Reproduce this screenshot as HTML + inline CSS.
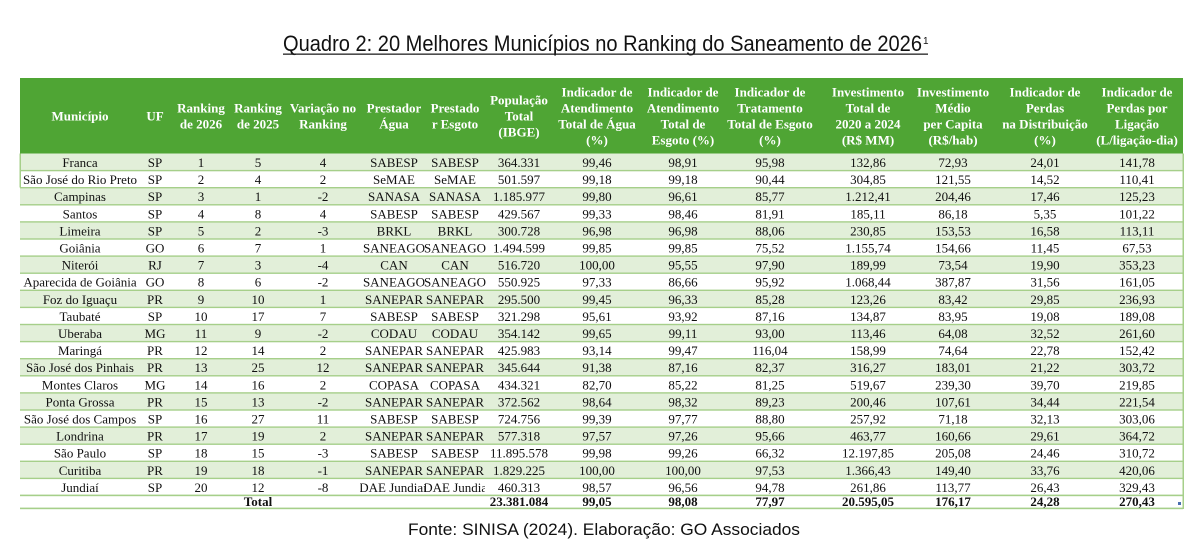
<!DOCTYPE html>
<html><head><meta charset="utf-8"><style>
html,body{margin:0;padding:0;background:#fff;}
svg{display:block;}
.h{font-family:"Liberation Serif",serif;font-weight:bold;font-size:13px;fill:#fff;text-anchor:middle;}
.d{font-family:"Liberation Serif",serif;font-size:13px;fill:#111;text-anchor:middle;}
.b{font-family:"Liberation Serif",serif;font-size:13px;font-weight:bold;fill:#111;text-anchor:middle;}
</style></head><body>
<svg width="1200" height="547" viewBox="0 0 1200 547" xmlns="http://www.w3.org/2000/svg">
<defs>
<clipPath id="ca"><rect x="360" y="470" width="65" height="25"/></clipPath>
<clipPath id="ce"><rect x="425" y="470" width="60" height="25"/></clipPath>
</defs>
<!-- Title -->
<text x="283" y="51" font-family="Liberation Sans, sans-serif" font-size="22" fill="#111" textLength="639" lengthAdjust="spacingAndGlyphs">Quadro 2: 20 Melhores Municípios no Ranking do Saneamento de 2026</text>
<text x="923" y="44" font-family="Liberation Sans, sans-serif" font-size="10" fill="#111">1</text>
<rect x="283" y="53.5" width="645" height="1.3" fill="#222"/>

<!-- Header -->
<rect x="20" y="78" width="1163" height="75.5" fill="#4fa534"/>
<text class="h"><tspan x="80" y="120.5">Município</tspan><tspan x="155" y="120.5">UF</tspan></text>
<text class="h"><tspan x="201" y="112.5">Ranking</tspan><tspan x="201" y="128.5">de 2026</tspan><tspan x="258" y="112.5">Ranking</tspan><tspan x="258" y="128.5">de 2025</tspan><tspan x="323" y="112.5">Variação no</tspan><tspan x="323" y="128.5">Ranking</tspan><tspan x="394" y="112.5">Prestador</tspan><tspan x="394" y="128.5">Água</tspan><tspan x="455" y="112.5">Prestado</tspan><tspan x="455" y="128.5">r Esgoto</tspan></text>
<text class="h"><tspan x="519" y="104.5">População</tspan><tspan x="519" y="120.5">Total</tspan><tspan x="519" y="136.5">(IBGE)</tspan></text>
<text class="h"><tspan x="597" y="96.5">Indicador de</tspan><tspan x="597" y="112.5">Atendimento</tspan><tspan x="597" y="128.5">Total de Água</tspan><tspan x="597" y="144.5">(%)</tspan></text>
<text class="h"><tspan x="683" y="96.5">Indicador de</tspan><tspan x="683" y="112.5">Atendimento</tspan><tspan x="683" y="128.5">Total de</tspan><tspan x="683" y="144.5">Esgoto (%)</tspan></text>
<text class="h"><tspan x="770" y="96.5">Indicador de</tspan><tspan x="770" y="112.5">Tratamento</tspan><tspan x="770" y="128.5">Total de Esgoto</tspan><tspan x="770" y="144.5">(%)</tspan></text>
<text class="h"><tspan x="868" y="96.5">Investimento</tspan><tspan x="868" y="112.5">Total de</tspan><tspan x="868" y="128.5">2020 a 2024</tspan><tspan x="868" y="144.5">(R$ MM)</tspan></text>
<text class="h"><tspan x="953" y="96.5">Investimento</tspan><tspan x="953" y="112.5">Médio</tspan><tspan x="953" y="128.5">per Capita</tspan><tspan x="953" y="144.5">(R$/hab)</tspan></text>
<text class="h"><tspan x="1045" y="96.5">Indicador de</tspan><tspan x="1045" y="112.5">Perdas</tspan><tspan x="1045" y="128.5">na Distribuição</tspan><tspan x="1045" y="144.5">(%)</tspan></text>
<text class="h"><tspan x="1137" y="96.5">Indicador de</tspan><tspan x="1137" y="112.5">Perdas por</tspan><tspan x="1137" y="128.5">Ligação</tspan><tspan x="1137" y="144.5">(L/ligação-dia)</tspan></text>

<!-- Row fills (odd rows) -->
<g fill="#e2efd9">
<rect x="20" y="153.5" width="1163" height="17.1"/>
<rect x="20" y="187.7" width="1163" height="17.1"/>
<rect x="20" y="221.9" width="1163" height="17.1"/>
<rect x="20" y="256.1" width="1163" height="17.1"/>
<rect x="20" y="290.3" width="1163" height="17.1"/>
<rect x="20" y="324.5" width="1163" height="17.1"/>
<rect x="20" y="358.7" width="1163" height="17.1"/>
<rect x="20" y="392.9" width="1163" height="17.1"/>
<rect x="20" y="427.1" width="1163" height="17.1"/>
<rect x="20" y="461.3" width="1163" height="17.1"/>
</g>
<!-- Row lines -->
<g fill="#a6cf8a">
<rect x="20" y="169.9" width="1163" height="1.4"/>
<rect x="20" y="187.0" width="1163" height="1.4"/>
<rect x="20" y="204.1" width="1163" height="1.4"/>
<rect x="20" y="221.2" width="1163" height="1.4"/>
<rect x="20" y="238.3" width="1163" height="1.4"/>
<rect x="20" y="255.4" width="1163" height="1.4"/>
<rect x="20" y="272.5" width="1163" height="1.4"/>
<rect x="20" y="289.6" width="1163" height="1.4"/>
<rect x="20" y="306.7" width="1163" height="1.4"/>
<rect x="20" y="323.8" width="1163" height="1.4"/>
<rect x="20" y="340.9" width="1163" height="1.4"/>
<rect x="20" y="358.0" width="1163" height="1.4"/>
<rect x="20" y="375.1" width="1163" height="1.4"/>
<rect x="20" y="392.2" width="1163" height="1.4"/>
<rect x="20" y="409.3" width="1163" height="1.4"/>
<rect x="20" y="426.4" width="1163" height="1.4"/>
<rect x="20" y="443.5" width="1163" height="1.4"/>
<rect x="20" y="460.6" width="1163" height="1.4"/>
<rect x="20" y="477.7" width="1163" height="1.4"/>
<rect x="20" y="494.6" width="1163" height="1.6"/>
<rect x="20" y="507.6" width="1163" height="1.6"/>
<rect x="1182.5" y="153.5" width="1.5" height="355.5"/>
<rect x="19.5" y="153.5" width="1.5" height="34"/>
</g>
<rect x="1178" y="502" width="3" height="3" fill="#4a6fb0"/>

<!-- Data rows -->
<text class="d" y="167"><tspan x="80">Franca</tspan><tspan x="155">SP</tspan><tspan x="201">1</tspan><tspan x="258">5</tspan><tspan x="323">4</tspan><tspan x="394">SABESP</tspan><tspan x="455">SABESP</tspan><tspan x="519">364.331</tspan><tspan x="597">99,46</tspan><tspan x="683">98,91</tspan><tspan x="770">95,98</tspan><tspan x="868">132,86</tspan><tspan x="953">72,93</tspan><tspan x="1045">24,01</tspan><tspan x="1137">141,78</tspan></text>
<text class="d" y="184.1"><tspan x="80">São José do Rio Preto</tspan><tspan x="155">SP</tspan><tspan x="201">2</tspan><tspan x="258">4</tspan><tspan x="323">2</tspan><tspan x="394">SeMAE</tspan><tspan x="455">SeMAE</tspan><tspan x="519">501.597</tspan><tspan x="597">99,18</tspan><tspan x="683">99,18</tspan><tspan x="770">90,44</tspan><tspan x="868">304,85</tspan><tspan x="953">121,55</tspan><tspan x="1045">14,52</tspan><tspan x="1137">110,41</tspan></text>
<text class="d" y="201.2"><tspan x="80">Campinas</tspan><tspan x="155">SP</tspan><tspan x="201">3</tspan><tspan x="258">1</tspan><tspan x="323">-2</tspan><tspan x="394">SANASA</tspan><tspan x="455">SANASA</tspan><tspan x="519">1.185.977</tspan><tspan x="597">99,80</tspan><tspan x="683">96,61</tspan><tspan x="770">85,77</tspan><tspan x="868">1.212,41</tspan><tspan x="953">204,46</tspan><tspan x="1045">17,46</tspan><tspan x="1137">125,23</tspan></text>
<text class="d" y="218.3"><tspan x="80">Santos</tspan><tspan x="155">SP</tspan><tspan x="201">4</tspan><tspan x="258">8</tspan><tspan x="323">4</tspan><tspan x="394">SABESP</tspan><tspan x="455">SABESP</tspan><tspan x="519">429.567</tspan><tspan x="597">99,33</tspan><tspan x="683">98,46</tspan><tspan x="770">81,91</tspan><tspan x="868">185,11</tspan><tspan x="953">86,18</tspan><tspan x="1045">5,35</tspan><tspan x="1137">101,22</tspan></text>
<text class="d" y="235.4"><tspan x="80">Limeira</tspan><tspan x="155">SP</tspan><tspan x="201">5</tspan><tspan x="258">2</tspan><tspan x="323">-3</tspan><tspan x="394">BRKL</tspan><tspan x="455">BRKL</tspan><tspan x="519">300.728</tspan><tspan x="597">96,98</tspan><tspan x="683">96,98</tspan><tspan x="770">88,06</tspan><tspan x="868">230,85</tspan><tspan x="953">153,53</tspan><tspan x="1045">16,58</tspan><tspan x="1137">113,11</tspan></text>
<text class="d" y="252.5"><tspan x="80">Goiânia</tspan><tspan x="155">GO</tspan><tspan x="201">6</tspan><tspan x="258">7</tspan><tspan x="323">1</tspan><tspan x="394">SANEAGO</tspan><tspan x="455">SANEAGO</tspan><tspan x="519">1.494.599</tspan><tspan x="597">99,85</tspan><tspan x="683">99,85</tspan><tspan x="770">75,52</tspan><tspan x="868">1.155,74</tspan><tspan x="953">154,66</tspan><tspan x="1045">11,45</tspan><tspan x="1137">67,53</tspan></text>
<text class="d" y="269.6"><tspan x="80">Niterói</tspan><tspan x="155">RJ</tspan><tspan x="201">7</tspan><tspan x="258">3</tspan><tspan x="323">-4</tspan><tspan x="394">CAN</tspan><tspan x="455">CAN</tspan><tspan x="519">516.720</tspan><tspan x="597">100,00</tspan><tspan x="683">95,55</tspan><tspan x="770">97,90</tspan><tspan x="868">189,99</tspan><tspan x="953">73,54</tspan><tspan x="1045">19,90</tspan><tspan x="1137">353,23</tspan></text>
<text class="d" y="286.7"><tspan x="80">Aparecida de Goiânia</tspan><tspan x="155">GO</tspan><tspan x="201">8</tspan><tspan x="258">6</tspan><tspan x="323">-2</tspan><tspan x="394">SANEAGO</tspan><tspan x="455">SANEAGO</tspan><tspan x="519">550.925</tspan><tspan x="597">97,33</tspan><tspan x="683">86,66</tspan><tspan x="770">95,92</tspan><tspan x="868">1.068,44</tspan><tspan x="953">387,87</tspan><tspan x="1045">31,56</tspan><tspan x="1137">161,05</tspan></text>
<text class="d" y="303.8"><tspan x="80">Foz do Iguaçu</tspan><tspan x="155">PR</tspan><tspan x="201">9</tspan><tspan x="258">10</tspan><tspan x="323">1</tspan><tspan x="394">SANEPAR</tspan><tspan x="455">SANEPAR</tspan><tspan x="519">295.500</tspan><tspan x="597">99,45</tspan><tspan x="683">96,33</tspan><tspan x="770">85,28</tspan><tspan x="868">123,26</tspan><tspan x="953">83,42</tspan><tspan x="1045">29,85</tspan><tspan x="1137">236,93</tspan></text>
<text class="d" y="320.9"><tspan x="80">Taubaté</tspan><tspan x="155">SP</tspan><tspan x="201">10</tspan><tspan x="258">17</tspan><tspan x="323">7</tspan><tspan x="394">SABESP</tspan><tspan x="455">SABESP</tspan><tspan x="519">321.298</tspan><tspan x="597">95,61</tspan><tspan x="683">93,92</tspan><tspan x="770">87,16</tspan><tspan x="868">134,87</tspan><tspan x="953">83,95</tspan><tspan x="1045">19,08</tspan><tspan x="1137">189,08</tspan></text>
<text class="d" y="338"><tspan x="80">Uberaba</tspan><tspan x="155">MG</tspan><tspan x="201">11</tspan><tspan x="258">9</tspan><tspan x="323">-2</tspan><tspan x="394">CODAU</tspan><tspan x="455">CODAU</tspan><tspan x="519">354.142</tspan><tspan x="597">99,65</tspan><tspan x="683">99,11</tspan><tspan x="770">93,00</tspan><tspan x="868">113,46</tspan><tspan x="953">64,08</tspan><tspan x="1045">32,52</tspan><tspan x="1137">261,60</tspan></text>
<text class="d" y="355.1"><tspan x="80">Maringá</tspan><tspan x="155">PR</tspan><tspan x="201">12</tspan><tspan x="258">14</tspan><tspan x="323">2</tspan><tspan x="394">SANEPAR</tspan><tspan x="455">SANEPAR</tspan><tspan x="519">425.983</tspan><tspan x="597">93,14</tspan><tspan x="683">99,47</tspan><tspan x="770">116,04</tspan><tspan x="868">158,99</tspan><tspan x="953">74,64</tspan><tspan x="1045">22,78</tspan><tspan x="1137">152,42</tspan></text>
<text class="d" y="372.2"><tspan x="80">São José dos Pinhais</tspan><tspan x="155">PR</tspan><tspan x="201">13</tspan><tspan x="258">25</tspan><tspan x="323">12</tspan><tspan x="394">SANEPAR</tspan><tspan x="455">SANEPAR</tspan><tspan x="519">345.644</tspan><tspan x="597">91,38</tspan><tspan x="683">87,16</tspan><tspan x="770">82,37</tspan><tspan x="868">316,27</tspan><tspan x="953">183,01</tspan><tspan x="1045">21,22</tspan><tspan x="1137">303,72</tspan></text>
<text class="d" y="389.3"><tspan x="80">Montes Claros</tspan><tspan x="155">MG</tspan><tspan x="201">14</tspan><tspan x="258">16</tspan><tspan x="323">2</tspan><tspan x="394">COPASA</tspan><tspan x="455">COPASA</tspan><tspan x="519">434.321</tspan><tspan x="597">82,70</tspan><tspan x="683">85,22</tspan><tspan x="770">81,25</tspan><tspan x="868">519,67</tspan><tspan x="953">239,30</tspan><tspan x="1045">39,70</tspan><tspan x="1137">219,85</tspan></text>
<text class="d" y="406.4"><tspan x="80">Ponta Grossa</tspan><tspan x="155">PR</tspan><tspan x="201">15</tspan><tspan x="258">13</tspan><tspan x="323">-2</tspan><tspan x="394">SANEPAR</tspan><tspan x="455">SANEPAR</tspan><tspan x="519">372.562</tspan><tspan x="597">98,64</tspan><tspan x="683">98,32</tspan><tspan x="770">89,23</tspan><tspan x="868">200,46</tspan><tspan x="953">107,61</tspan><tspan x="1045">34,44</tspan><tspan x="1137">221,54</tspan></text>
<text class="d" y="423.5"><tspan x="80">São José dos Campos</tspan><tspan x="155">SP</tspan><tspan x="201">16</tspan><tspan x="258">27</tspan><tspan x="323">11</tspan><tspan x="394">SABESP</tspan><tspan x="455">SABESP</tspan><tspan x="519">724.756</tspan><tspan x="597">99,39</tspan><tspan x="683">97,77</tspan><tspan x="770">88,80</tspan><tspan x="868">257,92</tspan><tspan x="953">71,18</tspan><tspan x="1045">32,13</tspan><tspan x="1137">303,06</tspan></text>
<text class="d" y="440.6"><tspan x="80">Londrina</tspan><tspan x="155">PR</tspan><tspan x="201">17</tspan><tspan x="258">19</tspan><tspan x="323">2</tspan><tspan x="394">SANEPAR</tspan><tspan x="455">SANEPAR</tspan><tspan x="519">577.318</tspan><tspan x="597">97,57</tspan><tspan x="683">97,26</tspan><tspan x="770">95,66</tspan><tspan x="868">463,77</tspan><tspan x="953">160,66</tspan><tspan x="1045">29,61</tspan><tspan x="1137">364,72</tspan></text>
<text class="d" y="457.7"><tspan x="80">São Paulo</tspan><tspan x="155">SP</tspan><tspan x="201">18</tspan><tspan x="258">15</tspan><tspan x="323">-3</tspan><tspan x="394">SABESP</tspan><tspan x="455">SABESP</tspan><tspan x="519">11.895.578</tspan><tspan x="597">99,98</tspan><tspan x="683">99,26</tspan><tspan x="770">66,32</tspan><tspan x="868">12.197,85</tspan><tspan x="953">205,08</tspan><tspan x="1045">24,46</tspan><tspan x="1137">310,72</tspan></text>
<text class="d" y="474.8"><tspan x="80">Curitiba</tspan><tspan x="155">PR</tspan><tspan x="201">19</tspan><tspan x="258">18</tspan><tspan x="323">-1</tspan><tspan x="394">SANEPAR</tspan><tspan x="455">SANEPAR</tspan><tspan x="519">1.829.225</tspan><tspan x="597">100,00</tspan><tspan x="683">100,00</tspan><tspan x="770">97,53</tspan><tspan x="868">1.366,43</tspan><tspan x="953">149,40</tspan><tspan x="1045">33,76</tspan><tspan x="1137">420,06</tspan></text>
<text class="d" y="491.9"><tspan x="80">Jundiaí</tspan><tspan x="155">SP</tspan><tspan x="201">20</tspan><tspan x="258">12</tspan><tspan x="323">-8</tspan><tspan x="519">460.313</tspan><tspan x="597">98,57</tspan><tspan x="683">96,56</tspan><tspan x="770">94,78</tspan><tspan x="868">261,86</tspan><tspan x="953">113,77</tspan><tspan x="1045">26,43</tspan><tspan x="1137">329,43</tspan></text>
<text class="d" x="393" y="491.9" clip-path="url(#ca)">DAE Jundiaí</text>
<text class="d" x="457" y="491.9" clip-path="url(#ce)">DAE Jundiaí</text>
<!-- Total -->
<text class="b" y="506"><tspan x="258">Total</tspan><tspan x="519">23.381.084</tspan><tspan x="597">99,05</tspan><tspan x="683">98,08</tspan><tspan x="770">77,97</tspan><tspan x="868">20.595,05</tspan><tspan x="953">176,17</tspan><tspan x="1045">24,28</tspan><tspan x="1137">270,43</tspan></text>

<!-- Footer -->
<text x="408" y="535" font-family="Liberation Sans, sans-serif" font-size="17" fill="#111" textLength="392" lengthAdjust="spacingAndGlyphs">Fonte: SINISA (2024). Elaboração: GO Associados</text>
</svg>
</body></html>
